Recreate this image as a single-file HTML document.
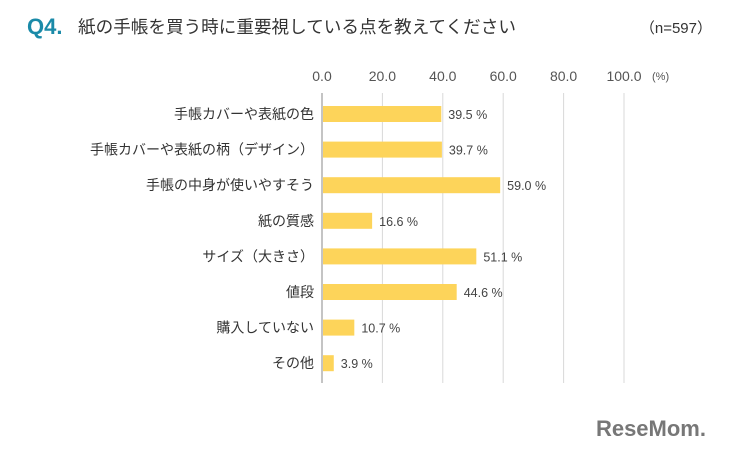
<!DOCTYPE html>
<html><head><meta charset="utf-8">
<style>
body{margin:0;width:740px;height:450px;background:#fff;overflow:hidden;font-family:"Liberation Sans","Noto Sans CJK JP",sans-serif;}
#wrap{position:relative;width:740px;height:450px;}
</style></head>
<body><div id="wrap">
<svg id="chart" width="740" height="450" style="position:absolute;left:0;top:0">
<text x="27" y="34" font-size="22" font-weight="bold" fill="#1a8aa8" font-family="Liberation Sans, sans-serif">Q4.</text>
<text x="78" y="33" font-size="17.6" fill="#333">紙の手帳を買う時に重要視している点を教えてください</text>
<text x="712" y="33" font-size="15" fill="#333" text-anchor="end">（n=597）</text>
<text x="652" y="80" font-size="11" fill="#555">(%)</text>
<g id="grid"></g><g id="bars"></g>
<text x="706" y="436" font-size="22" font-weight="bold" fill="#777" text-anchor="end" font-family="Liberation Sans, sans-serif">ReseMom.</text>
</svg>
</div>
<script>
const categories=["手帳カバーや表紙の色","手帳カバーや表紙の柄（デザイン）","手帳の中身が使いやすそう","紙の質感","サイズ（大きさ）","値段","購入していない","その他"];
const values=[39.5,39.7,59.0,16.6,51.1,44.6,10.7,3.9];
const ticks=[0,20,40,60,80,100];
const NS="http://www.w3.org/2000/svg";
const x0=322,x1=624,yTop=93,yBot=383,y0=114,step=35.6,bh=16;
const xs=v=>x0+(x1-x0)*v/100;
const ys=i=>y0+i*step;
function mk(t,a,p){const e=document.createElementNS(NS,t);for(const k in a)e.setAttribute(k,a[k]);p.appendChild(e);return e;}
const grid=document.getElementById('grid'),bars=document.getElementById('bars');
ticks.forEach(t=>{
 const l=mk('line',{x1:xs(t),x2:xs(t),y1:yTop,y2:yBot,stroke:t===0?'#888':'#d8d8d8','stroke-width':1},grid);
 
 
 const tx=mk('text',{x:xs(t),y:81,'font-size':14,fill:'#555','text-anchor':'middle'},grid);
 tx.textContent=t.toFixed(1);
 
 
});
categories.forEach((c,i)=>{
 const y=ys(i);
 const lb=mk('text',{x:314,y:y+5,'font-size':14,fill:'#333','text-anchor':'end'},bars);
 lb.textContent=c;
 
 
 const r=mk('rect',{x:x0+1,y:y-bh/2,width:xs(values[i])-x0-1,height:bh,fill:'#fdd45a'},bars);
 
 
 const v=mk('text',{x:xs(values[i])+7,y:y+5,'font-size':12.5,fill:'#444'},bars);
 v.textContent=values[i].toFixed(1)+' %';
 
 
});
</script>
</body></html>
